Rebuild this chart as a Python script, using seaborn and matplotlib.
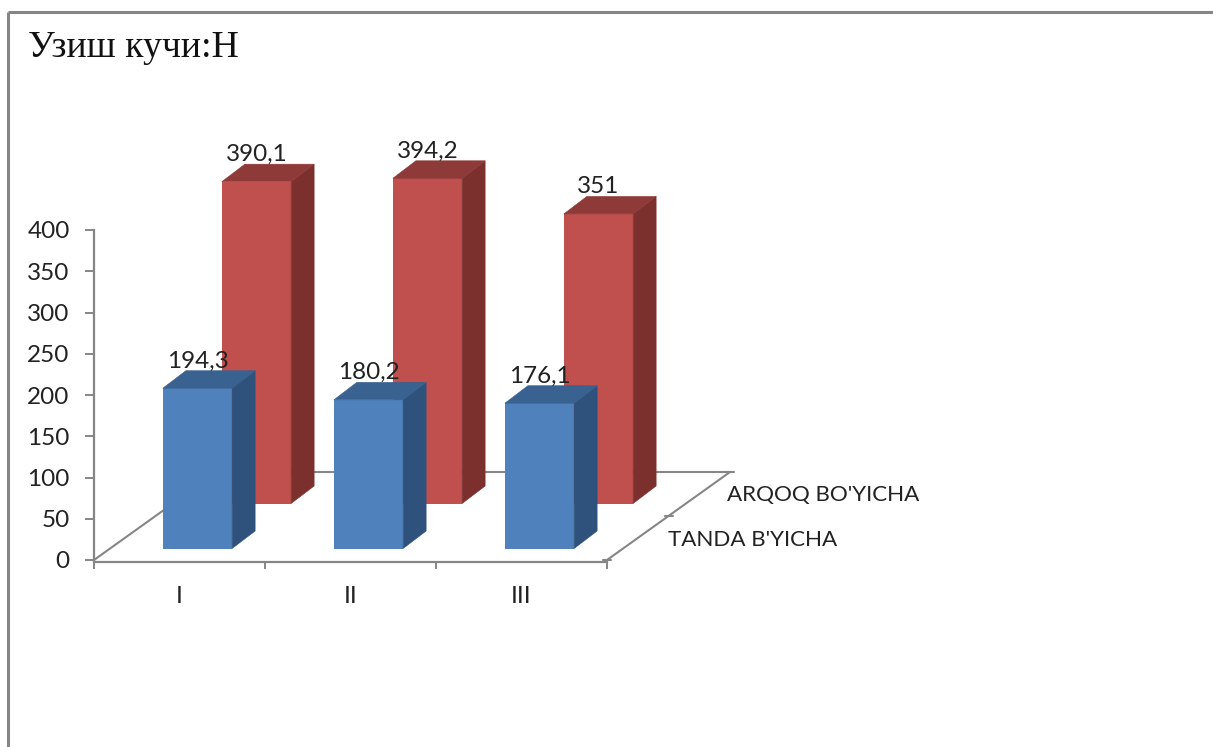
import matplotlib
matplotlib.use("Agg")
import matplotlib.pyplot as plt
from matplotlib.lines import Line2D
import seaborn as sns

categories = ["I", "II", "III"]
tanda_values = [194.3, 180.2, 176.1]
arqoq_values = [390.1, 394.2, 351]
y_ticks = [0, 50, 100, 150, 200, 250, 300, 350, 400]
series_names = ["TANDA B'YICHA", "ARQOQ BO'YICHA"]
title_text = "Узиш кучи:Н"

W, H = 1213, 747
PX_PER_UNIT = 0.825
CAT_PX = 171.0
GREY = "#868686"
TEXT = "#222222"
LABEL_FONT = "Lato"
LABEL_SIZE = 17.5

sns.set_theme(style="white")
plt.rcParams["font.family"] = [LABEL_FONT, "DejaVu Sans"]

fig = plt.figure(figsize=(W / 100, H / 100), dpi=100, facecolor="white")


def make_axes(left, zero_y, width, zorder):
    """Axes whose value 0 sits at zero_y and value 400 sits 400 units above it."""
    height = 400 * PX_PER_UNIT
    ax = fig.add_axes([left / W, 1 - zero_y / H, width / W, height / H], zorder=zorder)
    ax.set_xlim(-0.5, 2.5)
    ax.set_ylim(0, 400)
    ax.patch.set_alpha(0)
    return ax


def draw_series(ax, values, front, side, top):
    """Draw a bar row and extrude each bar into a box with side and top faces."""
    sns.barplot(x=categories, y=values, color=front, saturation=1, width=0.405,
                ax=ax, linewidth=0)
    ax.set_xlim(-0.5, 2.5)
    ax.set_ylim(0, 400)
    dx = 23 / CAT_PX
    dy = 17.5 / PX_PER_UNIT
    for bar in ax.patches:
        x1 = bar.get_x() + bar.get_width()
        x0 = bar.get_x()
        v = bar.get_height()
        ax.fill([x1, x1 + dx, x1 + dx, x1], [0, dy, v + dy, v],
                color=side, lw=0.4, clip_on=False)
        ax.fill([x0, x0 + dx, x1 + dx, x1], [v, v + dy, v + dy, v],
                color=top, lw=0.4, clip_on=False)
    labels = [f"{v:g}".replace(".", ",") for v in values]
    ax.bar_label(ax.containers[0], labels=labels, padding=12, fontsize=LABEL_SIZE,
                 color=TEXT, clip_on=False, zorder=5)
    ax.axis("off")


# Axis frame: value axis, category axis and the floor of the chart
frame = make_axes(94, 560, 513, 0)
sns.despine(ax=frame, top=True, right=True)
for name in ("left", "bottom"):
    frame.spines[name].set_color(GREY)
    frame.spines[name].set_linewidth(1.6)
frame.spines["bottom"].set_position(("outward", 1.2))
frame.set_yticks(y_ticks)
frame.set_yticklabels([str(t) for t in y_ticks], fontsize=LABEL_SIZE, color=TEXT)
frame.tick_params(axis="y", left=True, length=6.5, width=1.4, color=GREY, pad=11)
frame.set_xticks([-0.5, 0.5, 1.5, 2.5])
frame.set_xticklabels([])
frame.set_xticks([0, 1, 2], minor=True)
frame.set_xticklabels(categories, minor=True, fontsize=LABEL_SIZE, color=TEXT)
frame.tick_params(axis="x", which="major", bottom=True, length=5, width=1.4, color=GREY)
frame.tick_params(axis="x", which="minor", bottom=False, length=0, pad=17.5)

depth_x = 123 / CAT_PX
depth_y = 88 / PX_PER_UNIT
floor_kw = dict(color=GREY, lw=1.5, clip_on=False, solid_capstyle="round")
frame.plot([-0.5, -0.5 + depth_x], [0, depth_y], **floor_kw)
frame.plot([2.5, 2.5 + depth_x], [0, depth_y], **floor_kw)
frame.plot([-0.5 + depth_x, 2.5 + depth_x], [depth_y, depth_y], **floor_kw)
tick_half = 4 / CAT_PX
for part in (0, 0.5, 1):
    xc = 2.5 + depth_x * part
    yc = depth_y * part
    frame.plot([xc - tick_half, xc + tick_half], [yc, yc], **floor_kw)

# Back row sits up and to the right of the front row
back = make_axes(171, 503.5, 3 * CAT_PX, 1)
draw_series(back, arqoq_values, "#C0504D", "#7B302E", "#8E3A38")
front = make_axes(112, 548.5, 3 * CAT_PX, 2)
draw_series(front, tanda_values, "#4F81BD", "#2F527C", "#3A6291")

# Depth axis labels
fig.text(668 / W, 1 - 540 / H, series_names[0], fontsize=16.1, color=TEXT,
         ha="left", va="center")
fig.text(727 / W, 1 - 495.5 / H, series_names[1], fontsize=16.1, color=TEXT,
         ha="left", va="center")

fig.text(28 / W, 1 - 47.5 / H, title_text, fontsize=27.2, color="#111111",
         family=["Liberation Serif", "DejaVu Serif"], ha="left", va="center")

# Outer border, open on the right and at the bottom
border_kw = dict(color=GREY, lw=2.2, transform=fig.transFigure, solid_capstyle="butt")
fig.add_artist(Line2D([8 / W, 1], [1 - 11.5 / H, 1 - 11.5 / H], **border_kw))
fig.add_artist(Line2D([8 / W, 8 / W], [1 - 11.5 / H, 0], **border_kw))

fig.savefig("out.png", dpi=100, facecolor="white")
